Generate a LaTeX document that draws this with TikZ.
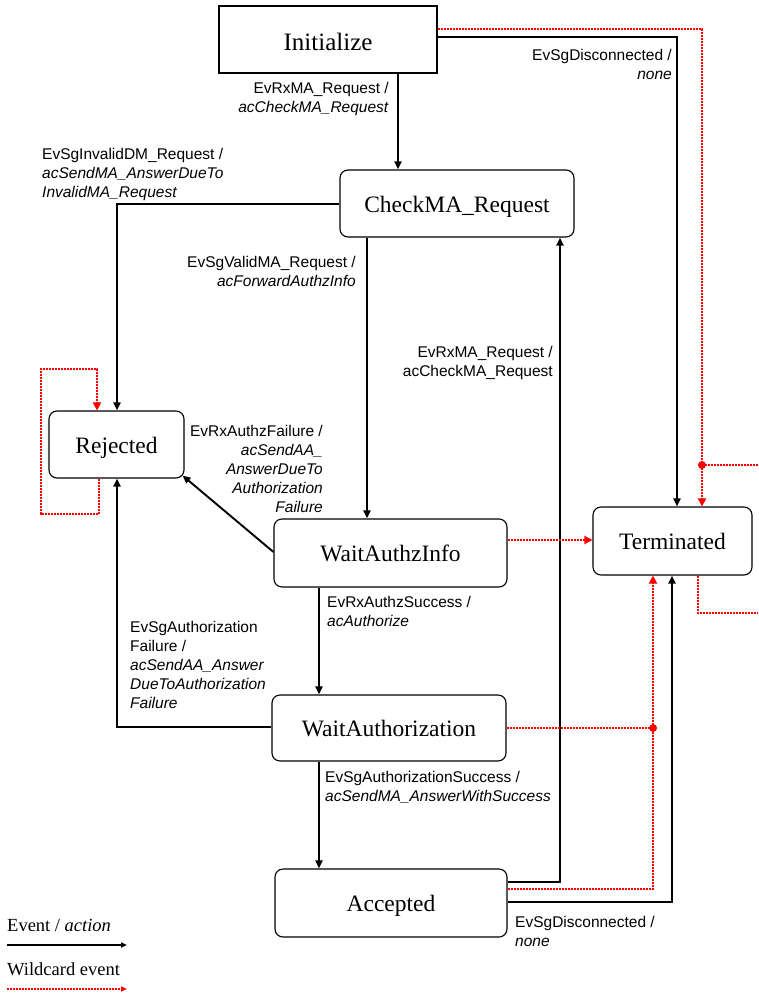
\documentclass[tikz,border=0pt]{standalone}
\usepackage{fontspec}
\setmainfont{Liberation Serif}
\newfontfamily\lblfont{Liberation Sans}
\usetikzlibrary{arrows.meta,calc}

\begin{document}
\begin{tikzpicture}[x=1pt,y=-1pt,
  state/.style={draw=black,line width=1.1pt,rounded corners=8pt,inner sep=0pt,
    text height=17pt,text depth=0pt,font=\fontsize{23.5}{28}\selectfont},
  initstate/.style={state,rounded corners=0pt,text height=21pt,
    font=\fontsize{25}{30}\selectfont},
  trans/.style={line width=1.9pt,-{Triangle[length=8pt,width=7pt]}},
  wildline/.style={red,line width=2pt,dash pattern=on 2pt off 1pt},
  wild/.style={wildline,-{Triangle[length=8pt,width=8pt]}},
  lbl/.style={inner sep=0pt,font=\lblfont\fontsize{15.5}{19}\selectfont},
  lblr/.style={lbl,align=right},
  lbll/.style={lbl,align=left},
  legend/.style={inner sep=0pt,anchor=base west,font=\fontsize{18.5}{22}\selectfont}
]
\useasboundingbox (0,0) rectangle (758,993);

% states
\node[initstate,minimum width=218pt,minimum height=67pt] (init) at (328,39.5) {Initialize};
\node[state,minimum width=234pt,minimum height=67pt] (check) at (457,203.5) {CheckMA\_Request};
\node[state,minimum width=135pt,minimum height=67pt] (rej) at (116.5,444.5) {Rejected};
\node[state,minimum width=233pt,minimum height=68pt] (winfo) at (390.5,553) {WaitAuthzInfo};
\node[state,minimum width=159pt,minimum height=68pt] (term) at (672.5,541) {Terminated};
\node[state,minimum width=234pt,minimum height=66pt] (wauth) at (389,728) {WaitAuthorization};
\node[state,minimum width=232pt,minimum height=68pt] (acc) at (391,903) {Accepted};

% junction points of the wildcard transitions
\coordinate (jTop) at (702,465);
\coordinate (jLow) at (653,728);
\coordinate (edgeIn) at (758,465);
\coordinate (edgeOut) at (758,613);

% ordinary transitions
\draw[trans] (init.south -| 398,0) -- (check.north -| 398,0);
\draw[trans] (init.east |- 0,37) -| (term.north -| 677,0);
\draw[trans] (check.west |- 0,204) -| (rej.north -| 117,0);
\draw[trans] (check.south -| 367,0) -- (winfo.north -| 367,0);
\draw[trans] (acc.east |- 0,882) -| (check.south -| 560,0);
\draw[trans] (winfo.west |- 0,552) -- ($(rej.south east)+(-2,-3)$);
\draw[trans] (winfo.south -| 319,0) -- (wauth.north -| 319,0);
\draw[trans] (wauth.west |- 0,727) -| (rej.south -| 117,0);
\draw[trans] (wauth.south -| 319,0) -- (acc.north -| 319,0);
\draw[trans] (acc.east |- 0,902) -| (term.south -| 672,0);

% wildcard transitions
\draw[wildline] (init.east |- 0,29) -| (jTop);
\draw[wildline] (edgeIn) -- (jTop);
\draw[wild] (jTop) -- (term.north -| jTop);
\draw[wildline] (term.south -| 698,0) |- (edgeOut);
\draw[wild] (winfo.east |- 0,540) -- (term.west |- 0,540);
\draw[wildline] (wauth.east |- 0,728) -- (jLow);
\draw[wildline] (acc.east |- 0,889) -| (jLow);
\draw[wild] (jLow) -- (term.south -| jLow);
\draw[wild] (rej.south -| 99,0) -- (99,514) -- (41,514) -- (41,369) -- (97,369) -- (rej.north -| 97,0);
\fill[red] (jTop) circle (4pt);
\fill[red] (jLow) circle (4pt);

% transition labels
\node[lblr,anchor=north east] (l1) at (389,81.7) {EvRxMA\_Request /\\\textit{acCheckMA\_Request}};
\node[lblr,anchor=north east] (l2) at (672,48.7) {EvSgDisconnected /\\\textit{none}};
\node[lbll,anchor=north west] (l3) at (42,147.7) {EvSgInvalidDM\_Request /\\\textit{acSendMA\_AnswerDueTo}\\\textit{InvalidMA\_Request}};
\node[lblr,anchor=north east] (l4) at (356,255.7) {EvSgValidMA\_Request /\\\textit{acForwardAuthzInfo}};
\node[lblr,anchor=north east] (l5) at (553,345.7) {EvRxMA\_Request /\\acCheckMA\_Request};
\node[lblr,anchor=north east] (l6) at (323,424.7) {EvRxAuthzFailure /\\\textit{acSendAA\_}\\\textit{AnswerDueTo}\\\textit{Authorization}\\\textit{Failure}};
\node[lbll,anchor=north west] (l7) at (327,595.7) {EvRxAuthzSuccess /\\\textit{acAuthorize}};
\node[lbll,anchor=north west] (l8) at (130,620.7) {EvSgAuthorization\\Failure /\\\textit{acSendAA\_Answer}\\\textit{DueToAuthorization}\\\textit{Failure}};
\node[lbll,anchor=north west] (l9) at (325,770.7) {EvSgAuthorizationSuccess /\\\textit{acSendMA\_AnswerWithSuccess}};
\node[lbll,anchor=north west] (l10) at (515,915.7) {EvSgDisconnected /\\\textit{none}};

% legend
\node[legend] (legEv) at (7,931) {Event / \textit{action}};
\coordinate (legEvA) at (7,945);
\coordinate (legEvB) at (127,945);
\draw[line width=1.9pt,-{Triangle[length=6pt,width=5pt]}] (legEvA) -- (legEvB);
\node[legend] (legWc) at (7,975) {Wildcard event};
\coordinate (legWcA) at (7,989);
\coordinate (legWcB) at (127,989);
\draw[wildline,-{Triangle[length=6pt,width=5pt]}] (legWcA) -- (legWcB);
\end{tikzpicture}
\end{document}
